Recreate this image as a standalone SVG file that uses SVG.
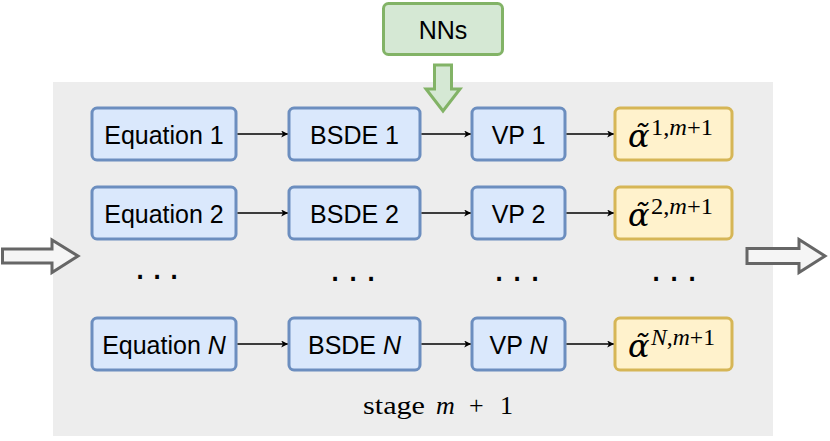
<svg xmlns="http://www.w3.org/2000/svg" width="830" height="441" viewBox="0 0 830 441">
<defs>
<style>
.blue{fill:#dae8fc;stroke:#6c8ebf;stroke-width:3}
.yel{fill:#fff2cc;stroke:#d6b656;stroke-width:3}
.grn{fill:#d5e8d4;stroke:#82b366;stroke-width:3}
.blk{fill:#f5f5f5;stroke:#666666;stroke-width:3}
.lbl{font-family:"Liberation Sans",Arial,sans-serif;font-size:25px;fill:#000;text-anchor:middle}
.math{font-family:"Liberation Serif","Times New Roman",serif;fill:#000}
.alpha{font-family:"DejaVu Serif","Liberation Serif",serif;font-style:italic;font-size:32px;fill:#000}
.sup{font-family:"Liberation Serif","Times New Roman",serif;font-size:23px;fill:#000}
.conn{stroke:#000;stroke-width:1.5;fill:none;marker-end:url(#ah)}
.dots{font-family:"Liberation Sans",Arial,sans-serif;font-size:38px;fill:#000;text-anchor:middle}
</style>
<marker id="ah" viewBox="0 0 10 10" refX="9" refY="5" markerWidth="7" markerHeight="7" orient="auto" markerUnits="userSpaceOnUse">
<path d="M0,0 L10,5 L0,10 L2.5,5 Z" fill="#000"/>
</marker>
</defs>
<rect x="53" y="82" width="720" height="354" fill="#ededed"/>

<g id="nns">
<rect class="grn" x="383.5" y="3.5" width="119" height="51" rx="5"/>
<text class="lbl" x="443" y="39">NNs</text>
</g>
<g id="nns-arrow">
<path class="grn" d="M434.5,65 H451.5 V89 H460 L443,111 L426,89 H434.5 Z"/>
</g>
<g id="in-arrow">
<path class="blk" d="M2.5,249 H52 V240 L78,256 L52,272.5 V263 H2.5 Z"/>
</g>
<g id="out-arrow">
<path class="blk" d="M747,248.5 H799 V239.5 L825,256 L799,272.5 V263.5 H747 Z"/>
</g>

<g id="eq1"><rect class="blue" x="92" y="108" width="144" height="52" rx="5"/><text class="lbl" x="164" y="144">Equation 1</text></g>
<g id="bsde1"><rect class="blue" x="289" y="108" width="131" height="52" rx="5"/><text class="lbl" x="354.5" y="144">BSDE 1</text></g>
<g id="vp1"><rect class="blue" x="472" y="108" width="93" height="52" rx="5"/><text class="lbl" x="518.5" y="144">VP 1</text></g>
<g id="a1"><rect class="yel" x="615" y="108" width="117" height="52" rx="5"/>
<text class="alpha" x="628" y="147">α̃</text>
<text class="sup" x="651" y="135" textLength="62" lengthAdjust="spacingAndGlyphs">1,<tspan font-style="italic">m</tspan>+1</text></g>

<g id="eq2"><rect class="blue" x="92" y="187" width="144" height="52" rx="5"/><text class="lbl" x="164" y="223">Equation 2</text></g>
<g id="bsde2"><rect class="blue" x="289" y="187" width="131" height="52" rx="5"/><text class="lbl" x="354.5" y="223">BSDE 2</text></g>
<g id="vp2"><rect class="blue" x="472" y="187" width="93" height="52" rx="5"/><text class="lbl" x="518.5" y="223">VP 2</text></g>
<g id="a2"><rect class="yel" x="615" y="187" width="117" height="52" rx="5"/>
<text class="alpha" x="628" y="226">α̃</text>
<text class="sup" x="651" y="214" textLength="62" lengthAdjust="spacingAndGlyphs">2,<tspan font-style="italic">m</tspan>+1</text></g>

<g id="eqN"><rect class="blue" x="92" y="318" width="144" height="52" rx="5"/><text class="lbl" x="164" y="354">Equation <tspan font-style="italic">N</tspan></text></g>
<g id="bsdeN"><rect class="blue" x="289" y="318" width="131" height="52" rx="5"/><text class="lbl" x="354.5" y="354">BSDE <tspan font-style="italic">N</tspan></text></g>
<g id="vpN"><rect class="blue" x="472" y="318" width="93" height="52" rx="5"/><text class="lbl" x="518.5" y="354">VP <tspan font-style="italic">N</tspan></text></g>
<g id="aN"><rect class="yel" x="615" y="318" width="117" height="52" rx="5"/>
<text class="alpha" x="628" y="357">α̃</text>
<text class="sup" x="651" y="345" textLength="64" lengthAdjust="spacingAndGlyphs"><tspan font-style="italic">N</tspan>,<tspan font-style="italic">m</tspan>+1</text></g>

<g id="dots">
<text class="dots" x="140 157 174" y="288">···</text>
<text class="dots" x="335 353 371" y="290">···</text>
<text class="dots" x="499 517 535" y="290">···</text>
<text class="dots" x="656 674 692" y="290">···</text>
</g>

<g id="stage">
<text class="math" x="363" y="414" font-size="26"><tspan textLength="62" lengthAdjust="spacingAndGlyphs">stage</tspan><tspan x="436" font-style="italic">m</tspan><tspan x="469">+</tspan><tspan x="500">1</tspan></text>
</g>

<g id="connectors">
<line class="conn" x1="237.5" y1="134" x2="287.5" y2="134"/>
<line class="conn" x1="421.5" y1="134" x2="470.5" y2="134"/>
<line class="conn" x1="566.5" y1="134" x2="613.5" y2="134"/>
<line class="conn" x1="237.5" y1="213" x2="287.5" y2="213"/>
<line class="conn" x1="421.5" y1="213" x2="470.5" y2="213"/>
<line class="conn" x1="566.5" y1="213" x2="613.5" y2="213"/>
<line class="conn" x1="237.5" y1="344" x2="287.5" y2="344"/>
<line class="conn" x1="421.5" y1="344" x2="470.5" y2="344"/>
<line class="conn" x1="566.5" y1="344" x2="613.5" y2="344"/>
</g>
</svg>
